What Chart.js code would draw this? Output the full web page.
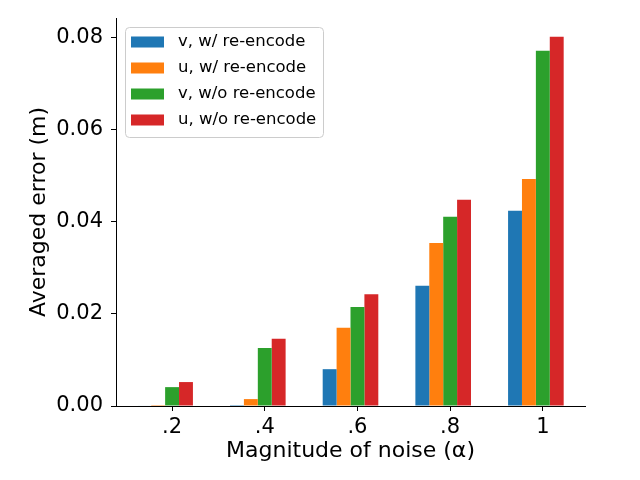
<html>
<head>
	<title>Averaged error vs noise</title>
	<style>
		html, body {
			margin: 0;
			padding: 0;
			background: #fff;
		}
		#app {
			width: 640px;
			height: 480px;
		}
	</style>
</head>
<body>

	<div id="app">
		<canvas id="errcanvas" width="640" height="480"></canvas>
	</div>

	<script src="https://cdn.jsdelivr.net/npm/chart.js@4.4.1/dist/chart.umd.min.js"></script>
	<script>
		// categories (noise magnitude) and their positions on the x axis
		var noiseLabels = ['.2', '.4', '.6', '.8', '1'];
		var noisePos = [0, 1, 2, 3, 4];

		// averaged error (m)
		var vWith = [0.0001, 0.0002, 0.0080, 0.0261, 0.0424];
		var uWith = [0.0002, 0.0015, 0.0170, 0.0354, 0.0493];
		var vWithout = [0.0041, 0.0126, 0.0215, 0.0411, 0.0772];
		var uWithout = [0.0052, 0.0146, 0.0243, 0.0448, 0.0802];

		var seriesNames = ['v, w/ re-encode', 'u, w/ re-encode', 'v, w/o re-encode', 'u, w/o re-encode'];
		var yTicks = [0, 0.02, 0.04, 0.06, 0.08];

		var colors = ['#1f77b4', '#ff7f0e', '#2ca02c', '#d62728'];
		var font = 'DejaVu Sans';

		var toPoints = function (vals) {
			return vals.map(function (v, i) { return {x: noisePos[i], y: v}; });
		};

		var ds = [vWith, uWith, vWithout, uWithout].map(function (vals, i) {
			return {
				label: seriesNames[i],
				data: toPoints(vals),
				backgroundColor: colors[i],
				borderWidth: 0
			};
		});
		// empty slot so the group sits like matplotlib's offset bars
		ds.push({
			label: '',
			data: toPoints(noisePos.map(function () { return 0; })),
			backgroundColor: 'rgba(0,0,0,0)',
			borderWidth: 0
		});

		// legend drawn inside the axes, matplotlib style
		var boxLegend = {
			id: 'boxLegend',
			afterDraw: function (chart) {
				var ctx = chart.ctx;
				var a = chart.chartArea;
				var x0 = a.left + 9, y0 = a.top + 9, w = 198, h = 110;
				ctx.save();
				ctx.beginPath();
				ctx.roundRect(x0 + 0.5, y0 + 0.5, w, h, 4);
				ctx.fillStyle = 'rgba(255,255,255,0.8)';
				ctx.fill();
				ctx.strokeStyle = '#cccccc';
				ctx.lineWidth = 1;
				ctx.stroke();
				ctx.font = '16.5px "' + font + '"';
				ctx.textBaseline = 'middle';
				ctx.textAlign = 'left';
				for (var i = 0; i < seriesNames.length; i++) {
					var cy = y0 + 15 + i * 26;
					ctx.fillStyle = colors[i];
					ctx.fillRect(x0 + 6, cy - 5.5, 33, 11);
					ctx.fillStyle = '#000';
					ctx.fillText(seriesNames[i], x0 + 53, cy);
				}
				ctx.restore();
			}
		};

		var ctx = document.getElementById('errcanvas').getContext('2d');

		var myChart = new Chart(ctx, {
			type: 'bar',
			data: {datasets: ds},
			plugins: [boxLegend],
			options: {
				responsive: false,
				animation: false,
				devicePixelRatio: 1,
				layout: {padding: {left: 0, right: 55, top: 18, bottom: 0}},
				datasets: {bar: {categoryPercentage: 0.75, barPercentage: 1}},
				plugins: {
					legend: {display: false},
					tooltip: {enabled: false}
				},
				scales: {
					x: {
						type: 'linear',
						offset: false,
						min: -0.605,
						max: 4.455,
						afterBuildTicks: function (s) {
							s.ticks = noisePos.map(function (v) { return {value: v}; });
						},
						afterFit: function (s) {
							s.height = 74;
							s.paddingLeft = 0;
							s.paddingRight = 0;
						},
						grid: {offset: false, drawOnChartArea: false, drawTicks: true, tickLength: 5, color: '#000'},
						border: {display: true, color: '#000', width: 1},
						ticks: {
							color: '#000',
							padding: 4,
							autoSkip: false,
							maxRotation: 0,
							font: {family: font, size: 21},
							callback: function (v) { return noiseLabels[noisePos.indexOf(v)]; }
						},
						title: {
							display: true,
							text: 'Magnitude of noise (α)',
							color: '#000',
							font: {family: font, size: 22},
							padding: {top: 0, bottom: 16}
						}
					},
					y: {
						type: 'linear',
						min: 0,
						max: 0.0843,
						afterBuildTicks: function (s) {
							s.ticks = yTicks.map(function (v) { return {value: v}; });
						},
						afterFit: function (s) {
							s.width = 116;
							s.paddingTop = 0;
							s.paddingBottom = 0;
						},
						grid: {drawOnChartArea: false, drawTicks: true, tickLength: 5, color: '#000'},
						border: {display: true, color: '#000', width: 1},
						ticks: {
							color: '#000',
							padding: 8,
							font: {family: font, size: 21},
							callback: function (v) { return v.toFixed(2); }
						},
						title: {
							display: true,
							text: 'Averaged error (m)',
							color: '#000',
							font: {family: font, size: 22},
							padding: {top: 26, bottom: 0}
						}
					}
				}
			}
		});
	</script>
</body>
</html>
